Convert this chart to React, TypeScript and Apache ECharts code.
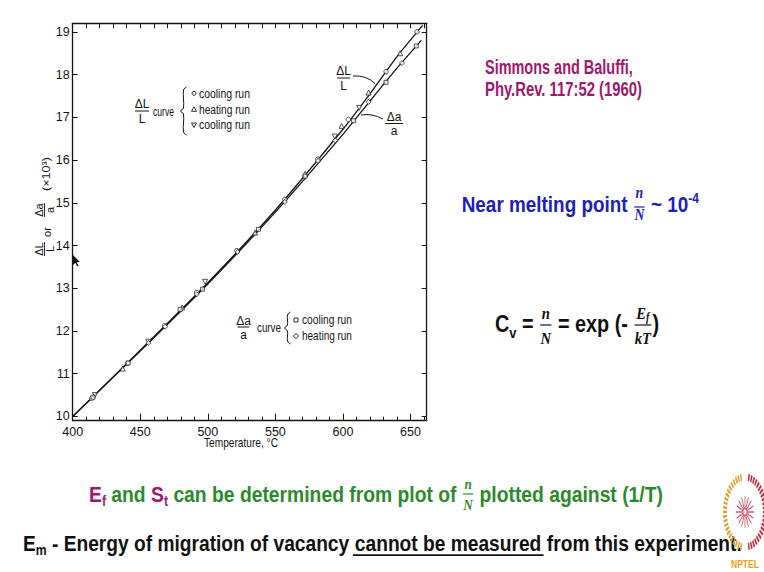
import React, { useEffect, useRef } from 'react';
import * as echarts from 'echarts';

// ---------- data ----------
const xMajorTicks = [400, 450, 500, 550, 600, 650];
const xMinorTicks = [410, 420, 430, 440, 460, 470, 480, 490, 510, 520, 530, 540, 560, 570, 580, 590, 610, 620, 630, 640, 660];
const xTopTicks = [410, 420, 430, 440, 450, 460, 470, 480, 490, 500, 510, 520, 530, 540, 550, 560, 570, 580, 590, 600, 610, 620, 630, 640, 650, 660];
const yTicks = [10, 11, 12, 13, 14, 15, 16, 17, 18, 19];

// ΔL/L curve (fitted line)
const curveLTemps = [400, 450, 500, 550, 600, 620, 640, 659];
const curveLValues = [10.0, 11.55, 13.13, 14.83, 16.72, 17.55, 18.42, 19.15];
// Δa/a curve (fitted line)
const curveATemps = [400, 450, 500, 550, 600, 620, 640, 658];
const curveAValues = [10.0, 11.53, 13.1, 14.78, 16.6, 17.38, 18.15, 18.8];

// ΔL/L cooling run (circles)
const lCool1Temps = [414, 440.5, 468, 491.8, 521.5, 557, 581.5, 604, 631.9, 654.8];
const lCool1Values = [10.42, 11.24, 12.12, 12.9, 13.88, 15.08, 16.02, 16.95, 18.07, 19.0];
// ΔL/L heating run (triangles)
const lHeatTemps = [437, 481, 535, 572, 599, 619, 642.4];
const lHeatValues = [11.12, 12.55, 14.3, 15.68, 16.8, 17.58, 18.5];
// ΔL/L cooling run (inverted triangles)
const lCool2Temps = [416.5, 456, 498, 594, 612];
const lCool2Values = [10.5, 11.75, 13.15, 16.55, 17.22];
// Δa/a cooling run (squares)
const aCoolTemps = [415, 441, 479.5, 496, 537.5, 572, 607.9, 631.9, 654.3];
const aCoolValues = [10.45, 11.25, 12.5, 12.98, 14.38, 15.62, 16.92, 17.82, 18.67];
// Δa/a heating run (diamonds)
const aHeatTemps = [456, 468.4, 491.8, 522, 557, 581.5, 594.3, 619, 643.7];
const aHeatValues = [11.72, 12.1, 12.86, 13.85, 15.02, 15.98, 16.46, 17.36, 18.27];

// ---------- helpers ----------
const SANS = 'Liberation Sans';
const SERIF = 'Liberation Serif';
const INK = '#151515';
const PURPLE = '#a0186a';
const BLUE = '#2020b8';
const GREEN = '#2b8a2b';

const zip = (a: number[], b: number[]) => a.map((v, i) => [v, b[i]]);

let measureCtx: CanvasRenderingContext2D | null = null;
function measure(text: string, font: string): number {
  if (!measureCtx) measureCtx = document.createElement('canvas').getContext('2d');
  if (!measureCtx) return text.length * 6;
  measureCtx.font = font;
  return measureCtx.measureText(text).width || 1;
}

type TOpt = { size?: number; weight?: string; style?: string; family?: string; color?: string; align?: string };
const fontOf = (o: TOpt) => `${o.style ?? 'normal'} ${o.weight ?? 'normal'} ${o.size ?? 12}px ${o.family ?? SANS}`;

function txt(text: string, x: number, y: number, w: number | null, o: TOpt = {}, scale?: number): any {
  const size = o.size ?? 12;
  const weight = o.weight ?? 'normal';
  const fstyle = o.style ?? 'normal';
  const family = o.family ?? SANS;
  const s = scale ?? (w ? w / measure(text, fontOf(o)) : 1);
  const align = o.align ?? 'left';
  return {
    type: 'text',
    x,
    y,
    scaleX: s,
    silent: true,
    style: {
      text,
      fontSize: size,
      fontWeight: weight,
      fontStyle: fstyle,
      fontFamily: family,
      fill: o.color ?? INK,
      align,
      textAlign: align,
      verticalAlign: 'middle',
      textVerticalAlign: 'middle',
    },
  };
}

function hline(x1: number, x2: number, y: number, color: string, width = 1): any {
  return { type: 'line', silent: true, shape: { x1, y1: y, x2, y2: y }, style: { stroke: color, lineWidth: width } };
}

function frac(num: string, den: string, cx: number, yBar: number, halfW: number, gapUp: number, gapDown: number, o: TOpt, barW = 1): any[] {
  return [
    txt(num, cx, yBar - gapUp, null, { ...o, align: 'center' }),
    txt(den, cx, yBar + gapDown, null, { ...o, align: 'center' }),
    hline(cx - halfW, cx + halfW, yBar, o.color ?? INK, barW),
  ];
}

type Seg = {
  t?: string;
  o: TOpt;
  dy?: number;
  underline?: boolean;
  fr?: { num: string; den: string; numSub?: string; up: number; down: number; bar?: number };
};

// lays out a row of segments with one common horizontal compression
function row(segs: Seg[], x0: number, x1: number, yc: number): any[] {
  const widths = segs.map((sg) => {
    if (sg.fr) {
      const f = fontOf(sg.o);
      const sf = fontOf({ ...sg.o, size: (sg.o.size ?? 12) * 0.7 });
      const nw = measure(sg.fr.num, f) + (sg.fr.numSub ? measure(sg.fr.numSub, sf) : 0);
      return Math.max(nw, measure(sg.fr.den, f)) + 3;
    }
    return measure(sg.t as string, fontOf(sg.o));
  });
  const total = widths.reduce((a, b) => a + b, 0);
  const s = (x1 - x0) / total;
  const out: any[] = [];
  let x = x0;
  segs.forEach((sg, i) => {
    const w = widths[i] * s;
    const col = sg.o.color ?? INK;
    if (sg.fr) {
      const cx = x + w / 2;
      const f = fontOf(sg.o);
      if (sg.fr.numSub) {
        const subO = { ...sg.o, size: (sg.o.size ?? 12) * 0.7 };
        const nw = (measure(sg.fr.num, f) + measure(sg.fr.numSub, fontOf(subO))) * s;
        const start = cx - nw / 2;
        out.push(txt(sg.fr.num, start, yc - sg.fr.up, null, sg.o, s));
        out.push(txt(sg.fr.numSub, start + measure(sg.fr.num, f) * s, yc - sg.fr.up + 4, null, subO, s));
      } else {
        out.push(txt(sg.fr.num, cx, yc - sg.fr.up, null, { ...sg.o, align: 'center' }, s));
      }
      out.push(txt(sg.fr.den, cx, yc + sg.fr.down, null, { ...sg.o, align: 'center' }, s));
      out.push(hline(x + 1.2 * s, x + w - 1.2 * s, yc + (sg.dy ?? 0), col, sg.fr.bar ?? 1.2));
    } else {
      out.push(txt(sg.t as string, x, yc + (sg.dy ?? 0), null, sg.o, s));
      if (sg.underline) out.push(hline(x - 2, x + w + 2, yc + (sg.o.size ?? 12) * 0.55, col, 1.6));
    }
    x += w;
  });
  return out;
}

function brace(x: number, top: number, bottom: number): any {
  const mid = (top + bottom) / 2;
  return {
    type: 'polyline',
    silent: true,
    shape: {
      points: [
        [x + 3.5, top],
        [x + 0.5, top + 3],
        [x + 0.5, mid - 3],
        [x - 2.5, mid],
        [x + 0.5, mid + 3],
        [x + 0.5, bottom - 3],
        [x + 3.5, bottom],
      ],
      smooth: 0.35,
    },
    style: { stroke: INK, lineWidth: 1, fill: null },
  };
}

const mk = { fill: '#fff', stroke: INK, lineWidth: 0.9 };
const circleMk = (cx: number, cy: number) => ({ type: 'circle', silent: true, shape: { cx, cy, r: 2 }, style: mk });
const triMk = (cx: number, cy: number, up: boolean) => ({
  type: 'polygon',
  silent: true,
  shape: { points: up ? [[cx, cy - 2.5], [cx - 2.5, cy + 2], [cx + 2.5, cy + 2]] : [[cx, cy + 2.5], [cx - 2.5, cy - 2], [cx + 2.5, cy - 2]] },
  style: mk,
});
const rectMk = (cx: number, cy: number) => ({ type: 'rect', silent: true, shape: { x: cx - 2, y: cy - 2, width: 4, height: 4 }, style: mk });
const diaMk = (cx: number, cy: number) => ({
  type: 'polygon',
  silent: true,
  shape: { points: [[cx, cy - 2.7], [cx + 2.5, cy], [cx, cy + 2.7], [cx - 2.5, cy]] },
  style: mk,
});

function buildGraphics(): any[] {
  const g: any[] = [];
  const scan: TOpt = { size: 12.5, family: SANS, color: INK };

  // y-axis name (rotated, reads bottom to top)
  const yn: TOpt = { size: 11, family: SANS, color: INK };
  g.push({
    type: 'group',
    x: 46,
    y: 205,
    rotation: Math.PI / 2,
    silent: true,
    children: [
      ...frac('ΔL', 'L', -44, -1.5, 7, 5.5, 5, yn, 0.9),
      txt('or', -27, 1, null, { ...yn, align: 'center' }),
      ...frac('Δa', 'a', -5, -1.5, 7, 5.5, 5, yn, 0.9),
      txt('(×10³)', 31, 0.5, 34, { ...yn, align: 'center' }),
    ],
  });

  // x-axis name
  g.push(txt('Temperature, °C', 241, 443, 74, { size: 12.5, align: 'center' }));

  // legend 1: ΔL/L curve
  g.push(...frac('ΔL', 'L', 142, 111, 7, 7.5, 7.5, { size: 12, color: INK }, 1));
  g.push(txt('curve', 153, 111, 21, scan));
  g.push(brace(183, 87, 135));
  g.push(circleMk(194, 93.3), triMk(194, 109.3, true), triMk(194, 125, false));
  g.push(txt('cooling run', 199, 93.3, 51, scan));
  g.push(txt('heating run', 199, 109.3, 51, scan));
  g.push(txt('cooling run', 199, 125, 51, scan));

  // legend 2: Δa/a curve
  g.push(...frac('Δa', 'a', 243.5, 327, 6, 6.5, 8, { size: 12, color: INK }, 1));
  g.push(txt('curve', 257, 328, 24, scan));
  g.push(brace(287, 312, 344));
  g.push(rectMk(296, 320), diaMk(296, 336));
  g.push(txt('cooling run', 302, 320, 50, scan));
  g.push(txt('heating run', 302, 336, 50, scan));

  // curve labels with leaders
  g.push(...frac('ΔL', 'L', 343.5, 78, 6.5, 7, 7.5, { size: 12, color: INK }, 1));
  g.push({
    type: 'bezierCurve',
    silent: true,
    shape: { x1: 353, y1: 76, cpx1: 366, cpy1: 75, x2: 375, y2: 83.5 },
    style: { stroke: INK, lineWidth: 1, fill: null },
  });
  g.push(...frac('Δa', 'a', 394, 123.5, 9, 7, 7.5, { size: 12, color: INK }, 1));
  g.push({
    type: 'bezierCurve',
    silent: true,
    shape: { x1: 383, y1: 119, cpx1: 372, cpy1: 113, x2: 361, y2: 115 },
    style: { stroke: INK, lineWidth: 1, fill: null },
  });

  // mouse cursor on the slide
  g.push({
    type: 'polygon',
    silent: true,
    shape: { points: [[73, 255], [73, 265], [75.3, 262.8], [77.3, 266.5], [78.6, 265.8], [76.7, 262.2], [79.8, 262]] },
    style: { fill: '#111' },
  });

  // reference text
  const slide: TOpt = { size: 19.5, weight: 'bold', family: SANS, color: PURPLE };
  g.push(txt('Simmons and Baluffi,', 485, 67, 148, slide));
  g.push(txt('Phy.Rev. 117:52 (1960)', 485, 89, 157, slide));

  // Near melting point n/N ~ 10^-4
  const blue: TOpt = { size: 22, weight: 'bold', family: SANS, color: BLUE };
  const blueFr: TOpt = { size: 16, style: 'italic', weight: 'bold', family: SERIF, color: BLUE };
  g.push(
    ...row(
      [
        { t: 'Near melting point ', o: blue },
        { fr: { num: 'n', den: 'N', up: 11, down: 11 }, o: blueFr, dy: 3 },
        { t: ' ~ 10', o: blue },
        { t: '-4', o: { ...blue, size: 14 }, dy: -6 },
      ],
      461.7,
      699,
      204
    )
  );

  // Cv = n/N = exp(-Ef/kT)
  const blk: TOpt = { size: 23, weight: 'bold', family: SANS, color: '#111' };
  const blkFr: TOpt = { size: 17, style: 'italic', weight: 'bold', family: SERIF, color: '#111' };
  g.push(
    ...row(
      [
        { t: 'C', o: blk },
        { t: 'v', o: { ...blk, size: 15 }, dy: 8 },
        { t: ' = ', o: blk },
        { fr: { num: 'n', den: 'N', up: 12, down: 13 }, o: blkFr },
        { t: ' = exp (- ', o: blk },
        { fr: { num: 'E', numSub: 'f', den: 'kT', up: 12, down: 13 }, o: blkFr },
        { t: ')', o: blk },
      ],
      495,
      659,
      325
    )
  );

  // bottom green line
  const gr: TOpt = { size: 22, weight: 'bold', family: SANS, color: GREEN };
  const pu: TOpt = { size: 22, weight: 'bold', family: SANS, color: PURPLE };
  const grFr: TOpt = { size: 15, style: 'italic', weight: 'bold', family: SERIF, color: GREEN };
  g.push(
    ...row(
      [
        { t: 'E', o: pu },
        { t: 'f', o: { ...pu, size: 14 }, dy: 7 },
        { t: ' and ', o: gr },
        { t: 'S', o: pu },
        { t: 't', o: { ...pu, size: 14 }, dy: 7 },
        { t: ' can be determined from plot of ', o: gr },
        { fr: { num: 'n', den: 'N', up: 10, down: 11 }, o: grFr, dy: 0 },
        { t: ' plotted against (1/T)', o: gr },
      ],
      89,
      663,
      494
    )
  );

  // bottom black line
  const bk: TOpt = { size: 22, weight: 'bold', family: SANS, color: '#111' };
  g.push(
    ...row(
      [
        { t: 'E', o: bk },
        { t: 'm', o: { ...bk, size: 14 }, dy: 7 },
        { t: ' - Energy of migration of vacancy ', o: bk },
        { t: 'cannot be measured', o: bk, underline: true },
        { t: ' from this experiment.', o: bk },
      ],
      23,
      742,
      543
    )
  );

  // NPTEL logo (approximation)
  const spokes: any[] = [];
  for (let i = 0; i < 8; i++) {
    const a = (i * Math.PI) / 8;
    spokes.push({
      type: 'line',
      silent: true,
      shape: { x1: -9 * Math.cos(a), y1: -9 * Math.sin(a), x2: 9 * Math.cos(a), y2: 9 * Math.sin(a) },
      style: { stroke: '#d0506a', lineWidth: 0.8 },
    });
  }
  g.push({
    type: 'group',
    x: 745,
    y: 512,
    scaleY: 1.75,
    silent: true,
    children: [
      {
        type: 'arc',
        silent: true,
        shape: { cx: 0, cy: 0, r: 20, startAngle: Math.PI * 0.55, endAngle: Math.PI * 1.45 },
        style: { stroke: '#e0a030', lineWidth: 4, lineDash: [1.5, 1], fill: null },
      },
      {
        type: 'arc',
        silent: true,
        shape: { cx: 0, cy: 0, r: 20, startAngle: -Math.PI * 0.45, endAngle: Math.PI * 0.45 },
        style: { stroke: '#c8283c', lineWidth: 4, lineDash: [1.5, 1], fill: null },
      },
      ...spokes,
      { type: 'circle', silent: true, shape: { cx: 0, cy: 0, r: 2 }, style: { fill: '#fff', stroke: '#d0506a', lineWidth: 0.8 } },
    ],
  });
  g.push(txt('NPTEL', 745, 564, 28, { size: 11, weight: 'bold', family: SANS, color: '#e8a020', align: 'center' }));

  return g;
}

const axisLineStyle = { color: INK, width: 1.3 };
const tickStyle = { color: INK, width: 1 };

function buildOption(): any {
  const scatterStyle = { color: '#fff', borderColor: INK, borderWidth: 0.9 };
  return {
    animation: false,
    backgroundColor: '#ffffff',
    grid: { left: 72.7, right: 337.3, top: 23.3, bottom: 151.3, containLabel: false },
    xAxis: [
      {
        type: 'value',
        position: 'bottom',
        min: 400,
        max: 662,
        interval: 50,
        axisLine: { show: true, onZero: false, lineStyle: axisLineStyle },
        axisTick: { show: true, inside: true, length: 7, customValues: xMajorTicks, lineStyle: tickStyle },
        axisLabel: { show: true, customValues: xMajorTicks, margin: 5, fontSize: 12.5, color: INK, fontFamily: SANS },
        splitLine: { show: false },
      },
      {
        type: 'value',
        position: 'bottom',
        min: 400,
        max: 662,
        axisLine: { show: false, onZero: false },
        axisTick: { show: true, inside: true, length: 4, customValues: xMinorTicks, lineStyle: tickStyle },
        axisLabel: { show: false },
        splitLine: { show: false },
      },
      {
        type: 'value',
        position: 'top',
        min: 400,
        max: 662,
        axisLine: { show: true, onZero: false, lineStyle: axisLineStyle },
        axisTick: { show: true, inside: true, length: 5, customValues: xTopTicks, lineStyle: tickStyle },
        axisLabel: { show: false },
        splitLine: { show: false },
      },
    ],
    yAxis: [
      {
        type: 'value',
        position: 'left',
        min: 9.9,
        max: 19.2,
        axisLine: { show: true, onZero: false, lineStyle: axisLineStyle },
        axisTick: { show: true, inside: true, length: 5, customValues: yTicks, lineStyle: tickStyle },
        axisLabel: { show: true, customValues: yTicks, margin: 3, fontSize: 12.5, color: INK, fontFamily: SANS },
        splitLine: { show: false },
      },
      {
        type: 'value',
        position: 'right',
        min: 9.9,
        max: 19.2,
        axisLine: { show: true, onZero: false, lineStyle: axisLineStyle },
        axisTick: { show: true, inside: true, length: 5, customValues: yTicks, lineStyle: tickStyle },
        axisLabel: { show: false },
        splitLine: { show: false },
      },
    ],
    series: [
      {
        name: 'ΔL/L',
        type: 'line',
        xAxisIndex: 0,
        yAxisIndex: 0,
        data: zip(curveLTemps, curveLValues),
        symbol: 'none',
        smooth: 0.2,
        lineStyle: { color: INK, width: 1.3 },
        z: 2,
        silent: true,
      },
      {
        name: 'Δa/a',
        type: 'line',
        xAxisIndex: 0,
        yAxisIndex: 0,
        data: zip(curveATemps, curveAValues),
        symbol: 'none',
        smooth: 0.2,
        lineStyle: { color: INK, width: 1.3 },
        z: 2,
        silent: true,
      },
      { name: 'ΔL/L cooling run', type: 'scatter', data: zip(lCool1Temps, lCool1Values), symbol: 'circle', symbolSize: 4.5, itemStyle: scatterStyle, z: 3, silent: true },
      { name: 'ΔL/L heating run', type: 'scatter', data: zip(lHeatTemps, lHeatValues), symbol: 'triangle', symbolSize: 5, itemStyle: scatterStyle, z: 3, silent: true },
      { name: 'ΔL/L cooling run 2', type: 'scatter', data: zip(lCool2Temps, lCool2Values), symbol: 'triangle', symbolRotate: 180, symbolSize: 5, itemStyle: scatterStyle, z: 3, silent: true },
      { name: 'Δa/a cooling run', type: 'scatter', data: zip(aCoolTemps, aCoolValues), symbol: 'rect', symbolSize: 4, itemStyle: scatterStyle, z: 3, silent: true },
      { name: 'Δa/a heating run', type: 'scatter', data: zip(aHeatTemps, aHeatValues), symbol: 'diamond', symbolSize: 5, itemStyle: scatterStyle, z: 3, silent: true },
    ],
    graphic: { elements: buildGraphics() },
  };
}

export default function App() {
  const ref = useRef<HTMLDivElement>(null);
  useEffect(() => {
    if (!ref.current) return;
    const chart = echarts.init(ref.current, undefined, { renderer: 'svg' });
    chart.setOption(buildOption());
    return () => chart.dispose();
  }, []);
  return (
    <div
      ref={ref}
      style={{ position: 'fixed', left: 0, top: 0, width: 764, height: 572, background: '#fff' }}
    />
  );
}
